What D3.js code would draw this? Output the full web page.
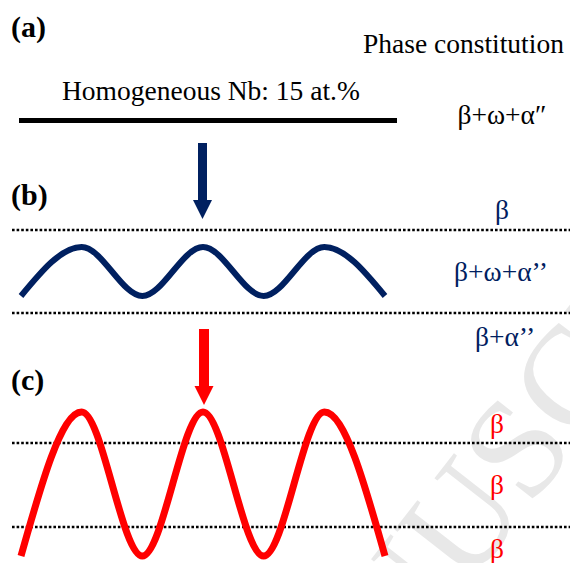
<!DOCTYPE html>
<html>
<head>
<meta charset="utf-8">
<script src="https://cdn.jsdelivr.net/npm/d3@7"></script>
<style>
  body { margin: 0; background: #fff; }
  svg { display: block; font-family: "Liberation Serif", "Times New Roman", serif; }
</style>
</head>
<body>
<svg id="chart" width="570" height="563"></svg>
<script>
// values
const panelLabels = ["(a)", "(b)", "(c)"];
const phaseA = ["β+ω+α″"];
const phaseB = ["β", "β+ω+α’’", "β+α’’"];
const phaseC = ["β", "β", "β"];
// wave extremes, at half-period steps (-1 trough, +1 crest)
const waveSteps = [0, 1, 2, 3, 4, 5, 6];
const waveB = [-1, 1, -1, 1, -1, 1, -1];
const waveC = [-1, 1, -1, 1, -1, 1, -1];
const arrowStep = 3; // arrows point at the middle crest

const svg = d3.select("#chart");
const navy = "#002060";
const red = "#ff0000";

const x = d3.scaleLinear().domain([0, 6]).range([21, 385]);
const yB = d3.scaleLinear().domain([-1, 1]).range([296, 247]);
const yC = d3.scaleLinear().domain([-1, 1]).range([556, 412]);

// faint journal watermark (clipped to the figure)
svg.append("clipPath").attr("id", "page")
  .append("rect").attr("width", 570).attr("height", 563);

svg.append("g")
  .attr("clip-path", "url(#page)")
  .append("text")
  .attr("transform", "translate(262,850) rotate(-52)")
  .attr("fill", "#e8e8e8")
  .style("font-size", "142px")
  .text("MANUSCRIPT");

// titles
svg.selectAll(".panel")
  .data(panelLabels)
  .join("text")
  .attr("class", "panel")
  .attr("x", 11)
  .attr("y", (d, i) => [37, 205, 390][i])
  .style("font-size", "30px")
  .style("font-weight", "bold")
  .text(d => d);

svg.append("text")
  .attr("x", 363)
  .attr("y", 53)
  .style("font-size", "27.5px")
  .text("Phase constitution");

svg.append("text")
  .attr("x", 62)
  .attr("y", 100)
  .style("font-size", "27.5px")
  .text("Homogeneous Nb: 15 at.%");

// (a) homogeneous line
svg.append("line")
  .attr("x1", 19).attr("x2", 397)
  .attr("y1", 120.5).attr("y2", 120.5)
  .attr("stroke", "#000")
  .attr("stroke-width", 5);

svg.selectAll(".phaseA")
  .data(phaseA)
  .join("text")
  .attr("class", "phaseA")
  .attr("x", 502)
  .attr("y", 124)
  .attr("text-anchor", "middle")
  .style("font-size", "27.5px")
  .text(d => d);

// dotted boundaries
const dotted = [230, 313, 443, 527];
svg.selectAll(".dot")
  .data(dotted)
  .join("line")
  .attr("class", "dot")
  .attr("x1", 12).attr("x2", 570)
  .attr("y1", d => d).attr("y2", d => d)
  .attr("stroke", "#000")
  .attr("stroke-width", 2.5)
  .attr("stroke-dasharray", "2.6,2");

// waves
const lineB = d3.line().x(d => x(d[0])).y(d => yB(d[1])).curve(d3.curveMonotoneX);
const lineC = d3.line().x(d => x(d[0])).y(d => yC(d[1])).curve(d3.curveMonotoneX);

svg.append("path")
  .attr("d", lineB(d3.zip(waveSteps, waveB)))
  .attr("fill", "none")
  .attr("stroke", navy)
  .attr("stroke-width", 6);

svg.append("path")
  .attr("d", lineC(d3.zip(waveSteps, waveC)))
  .attr("fill", "none")
  .attr("stroke", red)
  .attr("stroke-width", 7);

// arrows
function arrow(cx, top, headTop, tip, shaftW, headW, color) {
  svg.append("path")
    .attr("d", `M${cx - shaftW / 2},${top}H${cx + shaftW / 2}V${headTop}H${cx + headW / 2}L${cx},${tip}L${cx - headW / 2},${headTop}H${cx - shaftW / 2}Z`)
    .attr("fill", color);
}
arrow(x(arrowStep) - 0.5, 143, 200, 219, 9, 19, navy);
arrow(x(arrowStep) + 1, 329, 386, 405, 10, 19, red);

// phase labels
svg.selectAll(".phaseB")
  .data(phaseB)
  .join("text")
  .attr("class", "phaseB")
  .attr("x", (d, i) => [502, 501, 505][i])
  .attr("y", (d, i) => [219, 281, 346][i])
  .attr("text-anchor", "middle")
  .attr("fill", navy)
  .style("font-size", "27.5px")
  .text(d => d);

svg.selectAll(".phaseC")
  .data(phaseC)
  .join("text")
  .attr("class", "phaseC")
  .attr("x", 497)
  .attr("y", (d, i) => [433, 494, 558][i])
  .attr("text-anchor", "middle")
  .attr("fill", red)
  .style("font-size", "27.5px")
  .text(d => d);
</script>
</body>
</html>
